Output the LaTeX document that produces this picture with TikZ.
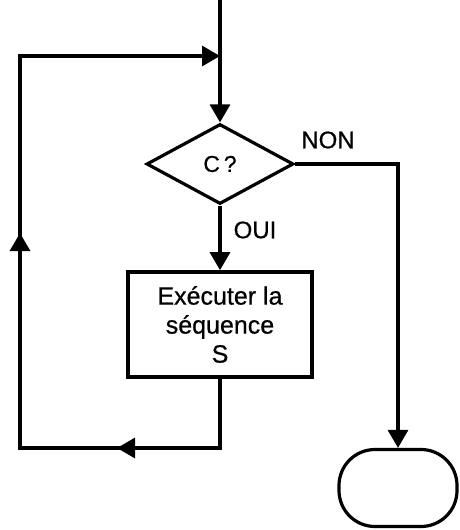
\documentclass[tikz,border=0pt]{standalone}
\usepackage{fontspec}
\setmainfont[FakeBold=0.6]{Liberation Sans}
\usetikzlibrary{shapes.geometric,arrows.meta}

\tikzset{
  flow/.style={line width=3.2pt, line join=miter},
  tipflow/.style={flow, -{Triangle[length=18pt,width=20pt]}},
  decision/.style={diamond, draw, line width=3.2pt, minimum width=147pt,
    minimum height=80pt, inner sep=0pt, font=\fontsize{23}{27}\selectfont},
  process/.style={rectangle, draw, line width=3.6pt, minimum width=184pt,
    minimum height=105pt, inner sep=0pt, align=center,
    font=\fontsize{25}{29}\selectfont},
  terminal/.style={rectangle, draw, line width=3.2pt, rounded corners=36pt,
    minimum width=118pt, minimum height=77pt, inner sep=0pt},
  lab/.style={font=\fontsize{24}{28}\selectfont, inner sep=0pt}
}

\begin{document}
\begin{tikzpicture}[x=1pt, y=-1pt]
  \useasboundingbox (0,0) rectangle (459,530);

  % shapes
  \node[decision] (dec) at (220,164) {C\,?};
  \node[process] (box) at (220,324.5) {Exécuter la\\séquence\\S};
  \node[terminal] (term) at (398,488) {};

  % labels of the two exits
  \node[lab] (non) at (328,140) {NON};
  \node[lab] (oui) at (255,230) {OUI};

  % points of the loop
  \coordinate (in) at (220,0);
  \coordinate (j)  at (220,56);
  \coordinate (br) at (220,448);
  \coordinate (bm) at (117,448);
  \coordinate (bl) at (20,448);
  \coordinate (lm) at (20,233);
  \coordinate (tl) at (20,56);

  % entry and exits
  \draw[tipflow] (in) -- (dec.north);
  \draw[tipflow] (dec.south) -- (box.north);
  \draw[tipflow] (dec.east) -| (term.north);

  % loop back from the process box to the entry
  \draw[tipflow] (box.south) -- (br) -- (bl) -- (tl) -- (j);
  \draw[tipflow] (br) -- (bm);
  \draw[tipflow] (bl) -- (lm);
\end{tikzpicture}
\end{document}
